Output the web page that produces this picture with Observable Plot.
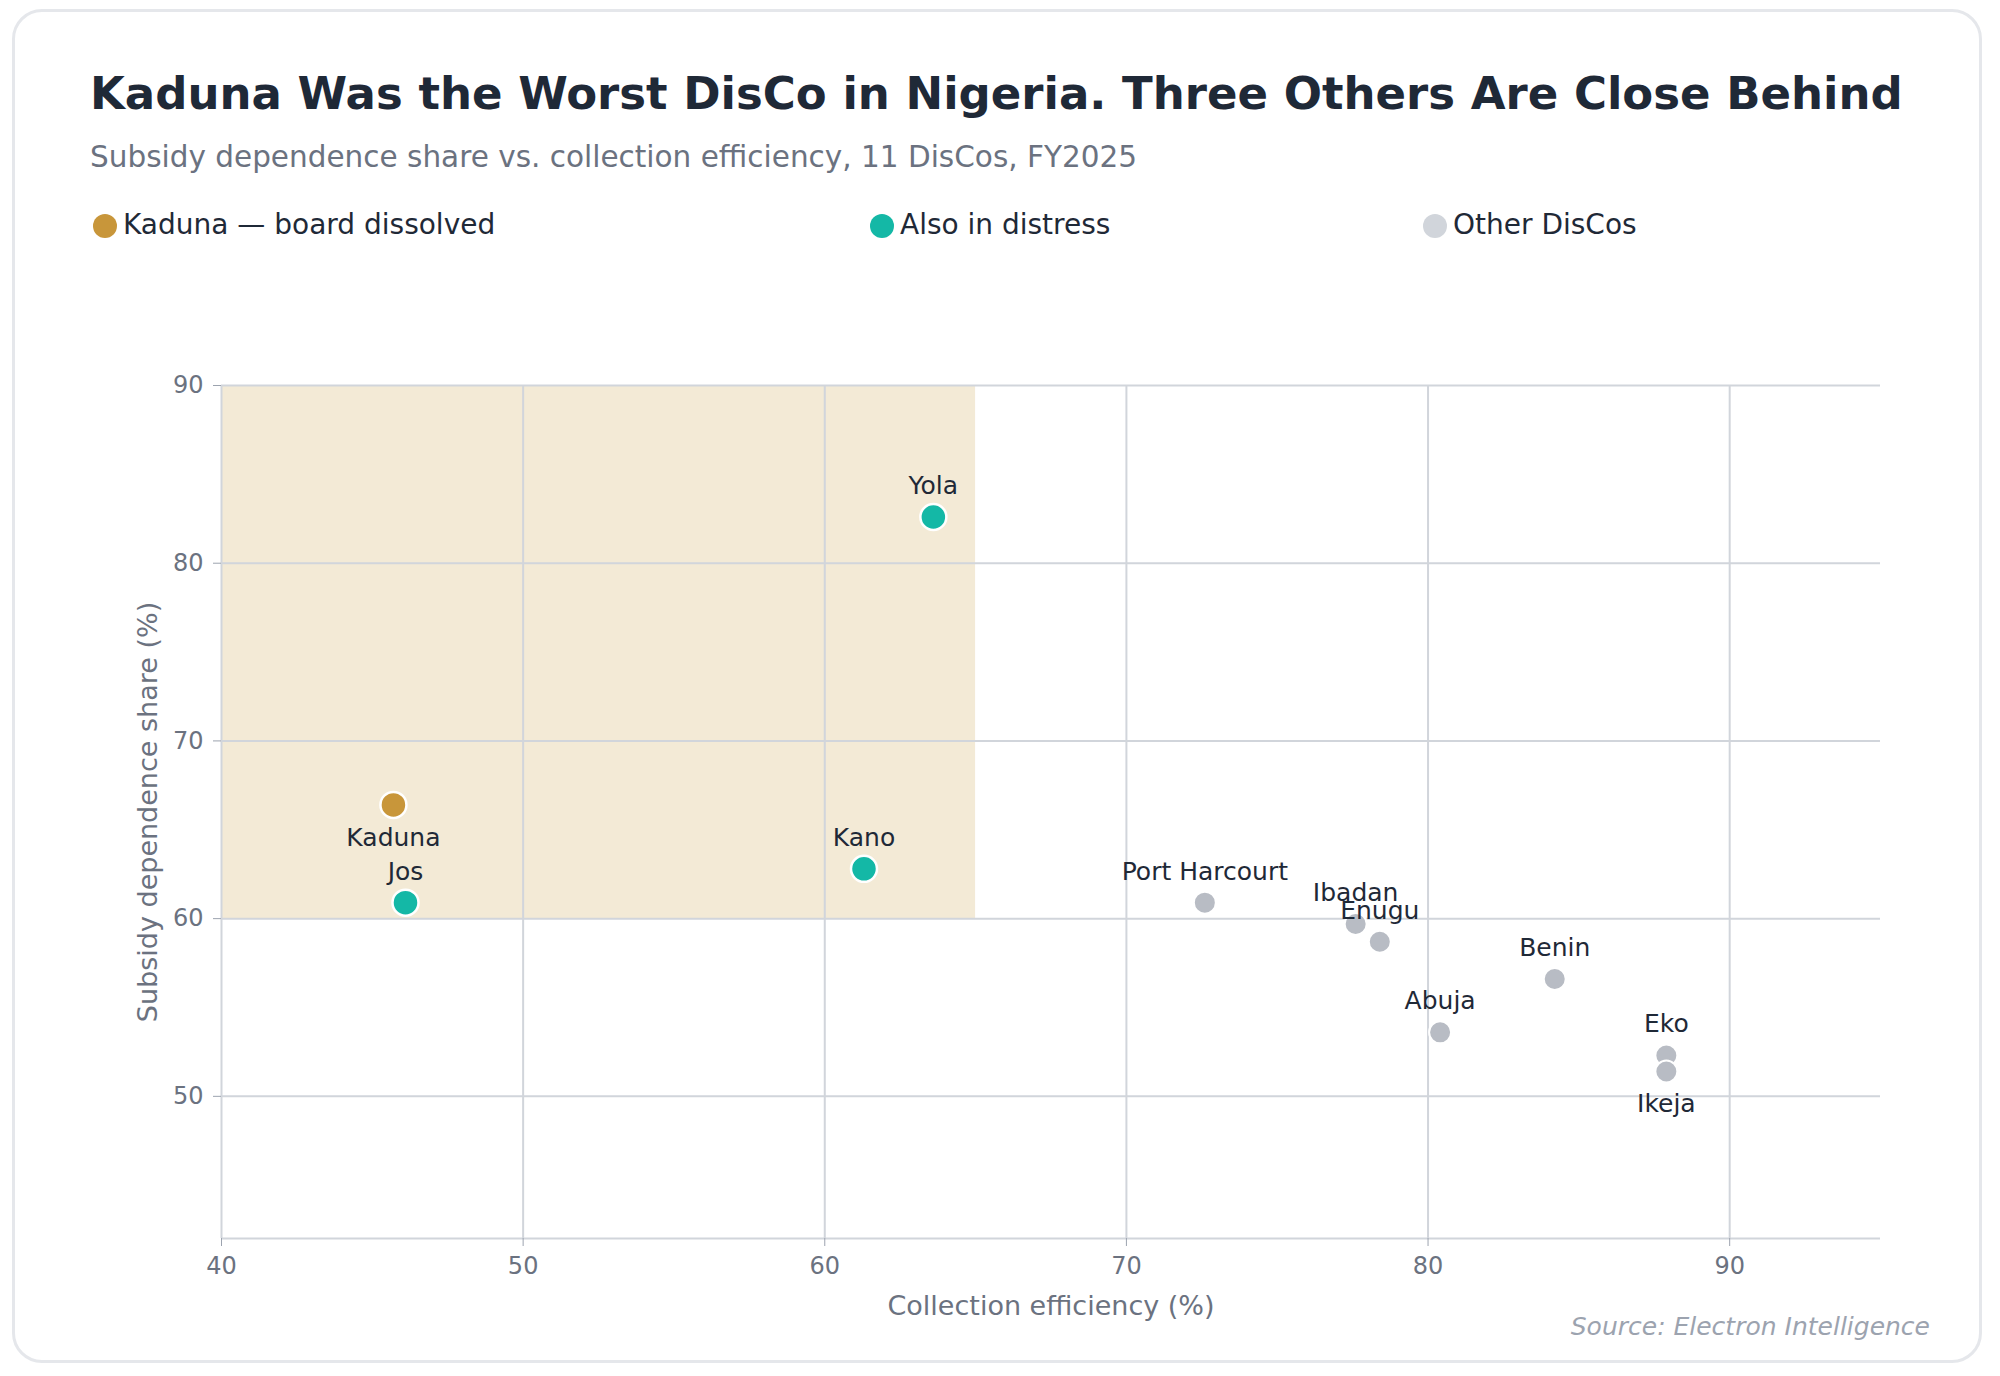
<!DOCTYPE html>
<html><head><meta charset="utf-8">
<script src="https://cdn.jsdelivr.net/npm/d3@7"></script>
<script src="https://cdn.jsdelivr.net/npm/@observablehq/plot@0.6"></script>
<style>
body{margin:0;width:2000px;height:1376px;background:#fff;font-family:"DejaVu Sans",sans-serif;position:relative;overflow:hidden}
.card{position:absolute;left:12px;top:9px;width:1970px;height:1354px;border:3px solid #e5e7eb;border-radius:30px;box-sizing:border-box}
.t{position:absolute;white-space:nowrap}
#chart{position:absolute;left:0;top:0}
.dot{display:inline-block;width:24px;height:24px;border-radius:50%;vertical-align:-4px;margin-right:6px}
#chart svg g[aria-label$="axis label"] text{font-size:27px}
</style></head><body>
<div class="card"></div>
<div id="chart"></div>
<div class="t" style="left:90px;top:67px;font-size:45px;font-weight:bold;color:#1f2937">Kaduna Was the Worst DisCo in Nigeria. Three Others Are Close Behind</div>
<div class="t" style="left:90px;top:140px;font-size:29.5px;color:#6b7280">Subsidy dependence share vs. collection efficiency, 11 DisCos, FY2025</div>
<div id="legend"></div>
<div class="t" style="right:70px;top:1312px;font-size:25px;font-style:italic;color:#9ca3af">Source: Electron Intelligence</div>
<script>
const names = ["Kaduna","Jos","Kano","Yola","Port Harcourt","Ibadan","Enugu","Benin","Abuja","Eko","Ikeja"];
const efficiency = [45.7,46.1,61.3,63.6,72.6,77.6,78.4,84.2,80.4,87.9,87.9];
const subsidy = [66.4,60.9,62.8,82.6,60.9,59.7,58.7,56.6,53.6,52.3,51.4];
const groups = ["Kaduna","Distress","Distress","Distress","Other","Other","Other","Other","Other","Other","Other"];
const labelBelow = ["Kaduna","Ikeja"];
const legendLabels = ["Kaduna — board dissolved","Also in distress","Other DisCos"];
const legendColors = ["#c8963a","#14b8a6","#d1d5db"];
const legendX = [93,870,1423];
const colors = {Kaduna:"#c8963a",Distress:"#14b8a6",Other:"#b8bcc4"};
const xTicks = [40,50,60,70,80,90];
const yTicks = [50,60,70,80,90];

const data = names.map((n,i)=>({name:n,x:efficiency[i],y:subsidy[i],g:groups[i]}));
const hi = data.filter(d=>d.g!=="Other"), lo = data.filter(d=>d.g==="Other");

const lg = document.getElementById("legend");
legendLabels.forEach((l,i)=>{
  const d=document.createElement("div");d.className="t";
  d.style.cssText=`left:${legendX[i]}px;top:208px;font-size:28px;color:#1f2937`;
  d.innerHTML=`<span class="dot" style="background:${legendColors[i]}"></span>${l}`;
  lg.appendChild(d);
});

const chart = Plot.plot({
  width:2000,height:1376,
  marginLeft:221,marginRight:120,marginTop:385,marginBottom:138,
  style:{fontFamily:"DejaVu Sans",fontSize:"26px",color:"#6b7280",background:"transparent"},
  x:{domain:[40,95]},
  y:{domain:[42,90]},
  marks:[
    Plot.rect([{x1:40,x2:65,y1:60,y2:90}],{x1:"x1",x2:"x2",y1:"y1",y2:"y2",fill:"#f3ead6"}),
    Plot.gridX(xTicks,{stroke:"#d1d5db",strokeOpacity:1,strokeWidth:2}),
    Plot.gridY(yTicks,{stroke:"#d1d5db",strokeOpacity:1,strokeWidth:2}),
    Plot.ruleY([42],{stroke:"#d1d5db",strokeWidth:2}),
    Plot.axisX({ticks:xTicks,tickSize:8,tickPadding:10,stroke:"#9ca3af",fill:"#6b7280",fontSize:24,label:"Collection efficiency (%)",labelAnchor:"center",labelArrow:"none",labelOffset:76}),
    Plot.axisY({ticks:yTicks,tickSize:8,tickPadding:10,stroke:"#9ca3af",fill:"#6b7280",fontSize:24,label:"Subsidy dependence share (%)",labelAnchor:"center",labelArrow:"none",labelOffset:84}),
    Plot.dot(lo,{x:"x",y:"y",r:11,fill:d=>colors[d.g],stroke:"#fff",strokeWidth:2}),
    Plot.dot(hi,{x:"x",y:"y",r:13,fill:d=>colors[d.g],stroke:"#fff",strokeWidth:2.5}),
    Plot.text(data.filter(d=>!labelBelow.includes(d.name)),{x:"x",y:"y",text:"name",dy:-31,fontSize:25,fill:"#1f2937"}),
    Plot.text(data.filter(d=>labelBelow.includes(d.name)),{x:"x",y:"y",text:"name",dy:33,fontSize:25,fill:"#1f2937"})
  ]
});
document.getElementById("chart").appendChild(chart);
</script></body></html>
